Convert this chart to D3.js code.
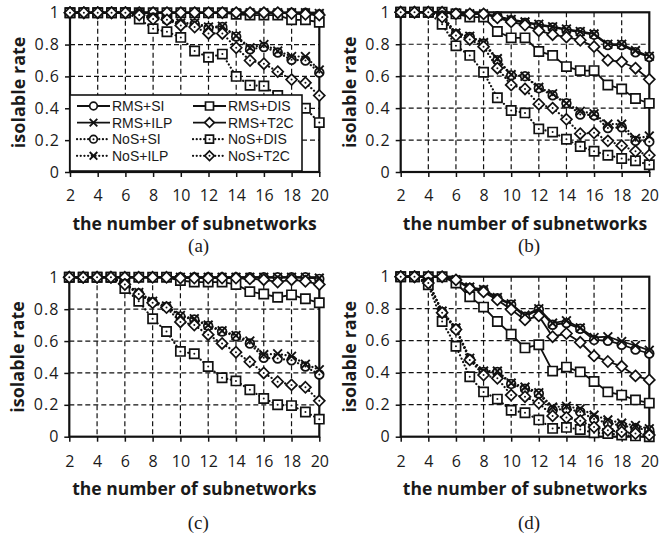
<!DOCTYPE html>
<html>
<head>
<meta charset="utf-8">
<script src="https://cdn.jsdelivr.net/npm/d3@7"></script>
<style>
  body { margin: 0; background: #fff; }
  svg text { font-family: "Open Sans", sans-serif; fill: #1a1a1a; }
</style>
</head>
<body>
<div class="chart"></div>
<script>
// x categories and tick labels
var xValues = [2, 3, 4, 5, 6, 7, 8, 9, 10, 11, 12, 13, 14, 15, 16, 17, 18, 19, 20];
var xTicks = [2, 4, 6, 8, 10, 12, 14, 16, 18, 20];
var yTicks = [0, 0.2, 0.4, 0.6, 0.8, 1];
var seriesNames = ["RMS+SI", "RMS+ILP", "RMS+DIS", "RMS+T2C", "NoS+SI", "NoS+ILP", "NoS+DIS", "NoS+T2C"];
var panelLabels = ["(a)", "(b)", "(c)", "(d)"];

// panel (a)
var aRmsSi  = [1, 1, 1, 1, 1, 1, 1, 1, 1, 1, 1, 1, 1, 1, 1, 1, 1, 1, 0.99];
var aRmsIlp = [1, 1, 1, 1, 1, 1, 1, 1, 1, 1, 1, 1, 1, 1, 1, 1, 1, 1, 0.995];
var aRmsDis = [1, 1, 1, 1, 1, 1, 1, 1, 1, 1, 1, 1, 0.99, 0.985, 0.985, 0.985, 0.955, 0.955, 0.94];
var aRmsT2c = [1, 1, 1, 1, 1, 1, 1, 1, 1, 1, 1, 1, 1, 1, 1, 1, 0.995, 0.99, 0.985];
var aNosSi  = [1, 1, 1, 1, 1, 0.99, 0.97, 0.955, 0.93, 0.93, 0.905, 0.91, 0.85, 0.77, 0.785, 0.75, 0.705, 0.70, 0.625];
var aNosIlp = [1, 1, 1, 1, 1, 0.99, 0.975, 0.96, 0.935, 0.935, 0.91, 0.915, 0.855, 0.78, 0.80, 0.76, 0.725, 0.725, 0.64];
var aNosDis = [1, 1, 1, 1, 1, 0.96, 0.90, 0.88, 0.845, 0.76, 0.72, 0.74, 0.60, 0.545, 0.54, 0.48, 0.44, 0.40, 0.31];
var aNosT2c = [1, 1, 1, 1, 1, 0.985, 0.96, 0.955, 0.92, 0.91, 0.87, 0.87, 0.78, 0.70, 0.68, 0.63, 0.58, 0.56, 0.48];

// panel (b)
var bRmsSi  = [1, 1, 1, 1, 0.995, 0.99, 0.99, 0.975, 0.95, 0.935, 0.92, 0.905, 0.89, 0.875, 0.86, 0.795, 0.795, 0.75, 0.72];
var bRmsIlp = [1, 1, 1, 1, 0.995, 0.99, 0.99, 0.975, 0.955, 0.94, 0.925, 0.91, 0.895, 0.88, 0.865, 0.80, 0.80, 0.76, 0.725];
var bRmsDis = [1, 1, 1, 1, 0.99, 0.97, 0.97, 0.88, 0.84, 0.84, 0.755, 0.73, 0.66, 0.635, 0.635, 0.545, 0.52, 0.46, 0.43];
var bRmsT2c = [1, 1, 1, 1, 0.99, 0.99, 0.99, 0.965, 0.94, 0.92, 0.885, 0.86, 0.845, 0.825, 0.785, 0.70, 0.69, 0.65, 0.58];
var bNosSi  = [1, 1, 1, 0.98, 0.865, 0.845, 0.805, 0.70, 0.605, 0.60, 0.525, 0.48, 0.43, 0.36, 0.355, 0.275, 0.28, 0.195, 0.19];
var bNosIlp = [1, 1, 1, 0.98, 0.87, 0.85, 0.81, 0.71, 0.61, 0.60, 0.53, 0.49, 0.43, 0.38, 0.365, 0.30, 0.30, 0.21, 0.225];
var bNosDis = [1, 1, 1, 0.925, 0.79, 0.73, 0.625, 0.465, 0.385, 0.37, 0.27, 0.25, 0.205, 0.16, 0.13, 0.105, 0.085, 0.07, 0.045];
var bNosT2c = [1, 1, 1, 0.97, 0.855, 0.83, 0.785, 0.65, 0.545, 0.52, 0.425, 0.40, 0.33, 0.24, 0.245, 0.195, 0.165, 0.13, 0.105];

// panel (c)
var cRmsSi  = [1, 1, 1, 1, 1, 1, 1, 1, 1, 1, 1, 1, 1, 1, 1, 1, 1, 1, 0.99];
var cRmsIlp = [1, 1, 1, 1, 1, 1, 1, 1, 1, 1, 1, 1, 1, 1, 1, 1, 1, 1, 0.995];
var cRmsDis = [1, 1, 1, 1, 1, 1, 1, 1, 0.98, 0.97, 0.97, 0.97, 0.955, 0.91, 0.895, 0.875, 0.89, 0.865, 0.84];
var cRmsT2c = [1, 1, 1, 1, 1, 1, 1, 1, 0.995, 0.995, 0.995, 0.995, 0.995, 0.99, 0.985, 0.97, 0.985, 0.975, 0.955];
var cNosSi  = [1, 1, 1, 1, 0.96, 0.90, 0.845, 0.815, 0.755, 0.735, 0.695, 0.66, 0.63, 0.585, 0.495, 0.49, 0.48, 0.44, 0.39];
var cNosIlp = [1, 1, 1, 1, 0.96, 0.905, 0.85, 0.82, 0.76, 0.74, 0.70, 0.665, 0.635, 0.60, 0.515, 0.52, 0.505, 0.455, 0.42];
var cNosDis = [1, 1, 1, 1, 0.93, 0.85, 0.74, 0.66, 0.535, 0.52, 0.44, 0.37, 0.35, 0.295, 0.24, 0.20, 0.195, 0.155, 0.11];
var cNosT2c = [1, 1, 1, 1, 0.955, 0.895, 0.84, 0.81, 0.72, 0.70, 0.64, 0.585, 0.53, 0.47, 0.40, 0.345, 0.325, 0.31, 0.225];

// panel (d)
var dRmsSi  = [1, 1, 1, 1, 0.98, 0.93, 0.915, 0.865, 0.825, 0.75, 0.795, 0.70, 0.71, 0.675, 0.605, 0.60, 0.575, 0.545, 0.52];
var dRmsIlp = [1, 1, 1, 1, 0.98, 0.935, 0.92, 0.87, 0.83, 0.76, 0.80, 0.71, 0.725, 0.68, 0.62, 0.625, 0.595, 0.57, 0.54];
var dRmsDis = [1, 1, 1, 1, 0.96, 0.875, 0.81, 0.72, 0.64, 0.555, 0.575, 0.41, 0.435, 0.405, 0.345, 0.28, 0.26, 0.23, 0.21];
var dRmsT2c = [1, 1, 1, 1, 0.98, 0.925, 0.905, 0.855, 0.795, 0.73, 0.755, 0.625, 0.645, 0.59, 0.505, 0.47, 0.44, 0.38, 0.355];
var dNosSi  = [1, 1, 0.965, 0.78, 0.675, 0.485, 0.405, 0.405, 0.33, 0.30, 0.27, 0.165, 0.175, 0.155, 0.11, 0.085, 0.07, 0.055, 0.04];
var dNosIlp = [1, 1, 0.965, 0.785, 0.68, 0.49, 0.41, 0.41, 0.335, 0.31, 0.275, 0.185, 0.19, 0.175, 0.135, 0.105, 0.085, 0.07, 0.05];
var dNosDis = [1, 1, 0.95, 0.72, 0.565, 0.375, 0.28, 0.235, 0.165, 0.15, 0.105, 0.052, 0.058, 0.045, 0.025, 0.02, 0.01, 0.005, 0];
var dNosT2c = [1, 1, 0.96, 0.775, 0.67, 0.48, 0.385, 0.365, 0.26, 0.25, 0.21, 0.13, 0.12, 0.10, 0.06, 0.04, 0.03, 0.02, 0.01];

var panelData = [
  [aRmsSi, aRmsIlp, aRmsDis, aRmsT2c, aNosSi, aNosIlp, aNosDis, aNosT2c],
  [bRmsSi, bRmsIlp, bRmsDis, bRmsT2c, bNosSi, bNosIlp, bNosDis, bNosT2c],
  [cRmsSi, cRmsIlp, cRmsDis, cRmsT2c, cNosSi, cNosIlp, cNosDis, cNosT2c],
  [dRmsSi, dRmsIlp, dRmsDis, dRmsT2c, dNosSi, dNosIlp, dNosDis, dNosT2c]
];

// series styles: marker shape and line type
var markerOf = ["circle", "x", "square", "diamond", "circle", "x", "square", "diamond"];
var dottedOf = [false, false, false, false, true, true, true, true];

// panel boxes
var panels = [
  {left: 70,    top: 12.7,  right: 319.3, bottom: 172,   tickGap: 29, titleGap: 58, capGap: 80},
  {left: 400.7, top: 12.3,  right: 649.3, bottom: 172,   tickGap: 29, titleGap: 58, capGap: 80},
  {left: 69.3,  top: 277.3, right: 319.3, bottom: 436.7, tickGap: 30, titleGap: 58, capGap: 92},
  {left: 400.7, top: 276.7, right: 649.3, bottom: 436.7, tickGap: 30, titleGap: 58, capGap: 92}
];

var svg = d3.select(".chart")
  .append("svg")
  .attr("width", 660)
  .attr("height", 534);

// marker path builder
function markerPath(type, s) {
  var p = d3.path();
  if (type === "circle") {
    p.moveTo(s * 0.95, 0);
    p.arc(0, 0, s * 0.95, 0, 2 * Math.PI);
  } else if (type === "square") {
    p.rect(-s, -s, 2 * s, 2 * s);
  } else if (type === "diamond") {
    var h = s * 1.2;
    p.moveTo(0, -h); p.lineTo(h, 0); p.lineTo(0, h); p.lineTo(-h, 0); p.closePath();
  } else {
    var k = s * 0.95;
    p.moveTo(-k, -k); p.lineTo(k, k);
    p.moveTo(k, -k); p.lineTo(-k, k);
  }
  return p.toString();
}

function drawMarker(g, type, dotted, cx, cy, s) {
  g.append("path")
    .attr("transform", `translate(${cx},${cy})`)
    .attr("d", markerPath(type, s))
    .attr("fill", type === "x" ? "none" : "#fff")
    .attr("stroke", "#111")
    .attr("stroke-width", type === "x" ? 1.9 : 1.7);
  if (dotted && type !== "x") {
    g.append("circle")
      .attr("cx", cx).attr("cy", cy).attr("r", 1)
      .attr("fill", "#111");
  }
}

panels.forEach(function(p, pi) {
  var xScale = d3.scaleLinear().domain([2, 20]).range([p.left, p.right]);
  var yScale = d3.scaleLinear().domain([0, 1]).range([p.bottom, p.top]);
  var g = svg.append("g");

  // dashed grid
  g.selectAll(".hgrid")
    .data(yTicks.slice(1, -1))
    .enter()
    .append("line")
    .attr("x1", p.left).attr("x2", p.right)
    .attr("y1", d => yScale(d)).attr("y2", d => yScale(d))
    .attr("stroke", "#111").attr("stroke-width", 1.2)
    .attr("stroke-dasharray", "5,3");

  g.selectAll(".vgrid")
    .data(xTicks.slice(1, -1))
    .enter()
    .append("line")
    .attr("x1", d => xScale(d)).attr("x2", d => xScale(d))
    .attr("y1", p.top).attr("y2", p.bottom)
    .attr("stroke", "#111").attr("stroke-width", 1.2)
    .attr("stroke-dasharray", "5,3");

  // axes
  var bottomAxis = d3.axisBottom(xScale).tickValues(xTicks).tickSize(5)
    .tickPadding(p.tickGap - 5 - 11.4).tickFormat(d => String(d));
  var leftAxis = d3.axisLeft(yScale).tickValues(yTicks).tickSize(5)
    .tickPadding(5).tickFormat(d => String(d));

  var xa = g.append("g")
    .attr("transform", `translate(0, ${p.bottom})`)
    .call(bottomAxis);
  var ya = g.append("g")
    .attr("transform", `translate(${p.left}, 0)`)
    .call(leftAxis);
  [xa, ya].forEach(function(a) {
    a.select(".domain").remove();
    a.selectAll(".tick line").attr("stroke", "#111").attr("stroke-width", 1.5);
    a.selectAll("text")
      .style("font-family", "'Open Sans', sans-serif")
      .style("font-size", "16px")
      .attr("fill", "#1a1a1a");
  });
  ya.selectAll("text").style("letter-spacing", "1px");

  // plot frame
  g.append("rect")
    .attr("x", p.left).attr("y", p.top)
    .attr("width", p.right - p.left).attr("height", p.bottom - p.top)
    .attr("fill", "none").attr("stroke", "#111").attr("stroke-width", 2.2);

  // series
  var line = d3.line()
    .x((d, i) => xScale(xValues[i]))
    .y(d => yScale(d));

  panelData[pi].forEach(function(vals, si) {
    g.append("path")
      .datum(vals)
      .attr("d", line)
      .attr("fill", "none")
      .attr("stroke", "#111")
      .attr("stroke-width", dottedOf[si] ? 2.2 : 1.8)
      .attr("stroke-linecap", dottedOf[si] ? "round" : "butt")
      .attr("stroke-dasharray", dottedOf[si] ? "0.1,3.6" : null);
    vals.forEach(function(v, i) {
      drawMarker(g, markerOf[si], dottedOf[si], xScale(xValues[i]), yScale(v), 4.6);
    });
  });

  // axis titles and caption
  var midX = (p.left + p.right) / 2;
  g.append("text")
    .attr("x", midX).attr("y", p.bottom + p.titleGap)
    .attr("text-anchor", "middle")
    .style("font-size", "17.5px").style("font-weight", "bold")
    .text("the number of subnetworks");

  g.append("text")
    .attr("transform", `translate(${p.left - 45}, ${(p.top + p.bottom) / 2}) rotate(-90)`)
    .attr("text-anchor", "middle")
    .style("font-size", "18px").style("font-weight", "bold")
    .text("isolable rate");

  g.append("text")
    .attr("x", midX + 4).attr("y", p.bottom + p.capGap)
    .attr("text-anchor", "middle")
    .style("font-family", "'Liberation Serif', serif")
    .style("font-size", "19px")
    .text(panelLabels[pi]);

  // legend only on panel (a)
  if (pi === 0) {
    var lg = g.append("g");
    lg.append("rect")
      .attr("x", 70).attr("y", 95)
      .attr("width", 232).attr("height", 76)
      .attr("fill", "#fff").attr("stroke", "#111").attr("stroke-width", 1.6);
    var legendOrder = [0, 1, 4, 5, 2, 3, 6, 7];
    legendOrder.forEach(function(si, k) {
      var col = Math.floor(k / 4), row = k % 4;
      var lx = 77 + col * 116, ly = 106 + row * 16.6;
      lg.append("line")
        .attr("x1", lx).attr("x2", lx + 33)
        .attr("y1", ly).attr("y2", ly)
        .attr("stroke", "#111")
        .attr("stroke-width", dottedOf[si] ? 2.2 : 1.8)
        .attr("stroke-linecap", dottedOf[si] ? "round" : "butt")
        .attr("stroke-dasharray", dottedOf[si] ? "0.1,3.6" : null);
      drawMarker(lg, markerOf[si], dottedOf[si], lx + 16.5, ly, 4);
      lg.append("text")
        .attr("x", lx + 35).attr("y", ly + 5)
        .style("font-family", "'Liberation Sans', sans-serif")
        .style("font-size", "14px")
        .text(seriesNames[si]);
    });
  }
});
</script>
</body>
</html>
